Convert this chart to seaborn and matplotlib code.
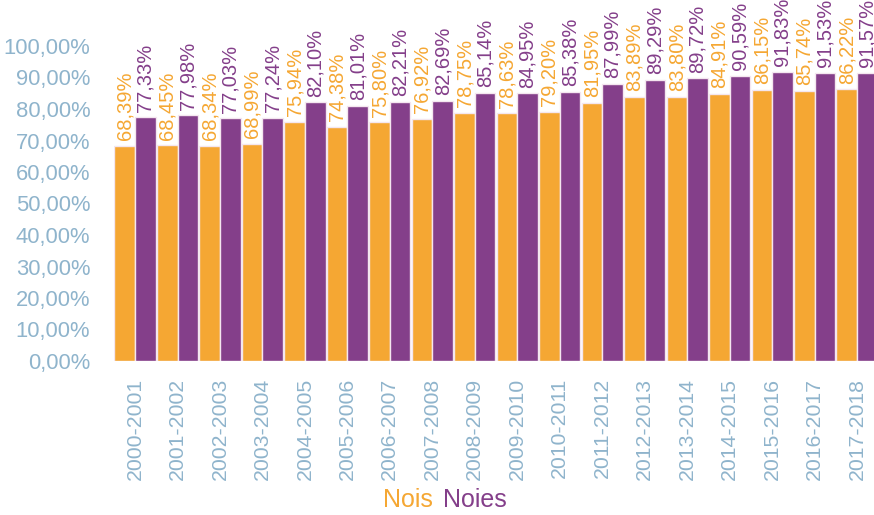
import matplotlib
matplotlib.use("Agg")
import matplotlib.pyplot as plt
import seaborn as sns
import pandas as pd

cursos = ["2000-2001", "2001-2002", "2002-2003", "2003-2004", "2004-2005", "2005-2006",
          "2006-2007", "2007-2008", "2008-2009", "2009-2010", "2010-2011", "2011-2012",
          "2012-2013", "2013-2014", "2014-2015", "2015-2016", "2016-2017", "2017-2018"]
nois = [68.39, 68.45, 68.34, 68.99, 75.94, 74.38, 75.80, 76.92, 78.75, 78.63, 79.20, 81.95,
        83.89, 83.80, 84.91, 86.15, 85.74, 86.22]
noies = [77.33, 77.98, 77.03, 77.24, 82.10, 81.01, 82.21, 82.69, 85.14, 84.95, 85.38, 87.99,
         89.29, 89.72, 90.59, 91.83, 91.53, 91.57]
series = ["Nois", "Noies"]
yticks = list(range(0, 101, 10))

ORANGE = "#F5A733"
PURPLE = "#843F8A"
TICK = "#8FB4CC"

df = pd.DataFrame({
    "curs": cursos * 2,
    "valor": nois + noies,
    "sexe": [series[0]] * len(cursos) + [series[1]] * len(cursos),
})

sns.set_theme(style="white")
plt.rcParams["font.family"] = ["Liberation Sans Narrow", "Liberation Sans", "DejaVu Sans"]

W, H = 874, 515
fig = plt.figure(figsize=(W / 100, H / 100), dpi=100)
ax = fig.add_axes([113.8 / W, 154 / H, 764.5 / W, 315 / H])

sns.barplot(data=df, x="curs", y="valor", hue="sexe", order=cursos, hue_order=series,
            palette=[ORANGE, PURPLE], width=0.97, edgecolor="#F4E6EF", linewidth=1,
            saturation=1, legend=False, ax=ax)

for cont, vals, col in zip(ax.containers, [nois, noies], [ORANGE, PURPLE]):
    labels = [f"{v:.2f}".replace(".", ",") + "%" for v in vals]
    ax.bar_label(cont, labels=labels, rotation=90, padding=4, color=col, fontsize=14.5)

ax.set_xlim(-0.5, len(cursos) - 0.5)
ax.set_ylim(0, 100)
ax.set_yticks(yticks)
ax.set_yticklabels([f"{t:.2f}".replace(".", ",") + "%" for t in yticks])
ax.tick_params(axis="y", length=0, pad=17, labelsize=15.8, labelcolor=TICK)
ax.tick_params(axis="x", length=0, pad=12, labelsize=15.3, labelcolor=TICK, rotation=90)
ax.set_xlabel("")
ax.set_ylabel("")
for s in ax.spines.values():
    s.set_visible(False)
ax.grid(False)

fig.text(408 / W, 15 / H, series[0], color=ORANGE, fontsize=18, ha="center", va="center")
fig.text(475 / W, 15 / H, series[1], color=PURPLE, fontsize=18, ha="center", va="center")

fig.savefig("out.png", dpi=100)
